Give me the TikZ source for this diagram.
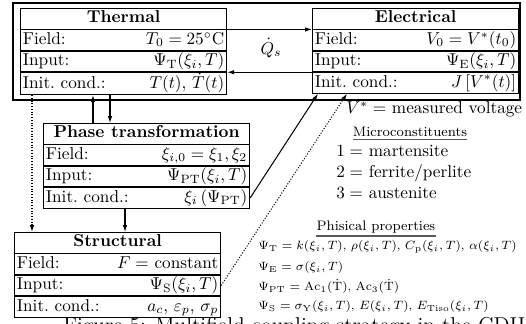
\documentclass[tikz,border=0pt]{standalone}
\usetikzlibrary{calc,arrows.meta}
\newcommand\tabrow[3][117pt]{\makebox[#1]{\strut #2\hfill #3}}
\begin{document}
\begin{tikzpicture}[x=0.5814pt,y=-0.5814pt,
  >={Latex[length=4pt,width=2.6pt]},
  frame/.style={draw,line width=0.8pt},
  ttl/.style={draw,line width=0.45pt,minimum width=120pt,inner sep=0pt,anchor=north west,font=\bfseries},
  row/.style={draw,line width=0.45pt,inner xsep=1.5pt,inner ysep=0pt,anchor=north west},
  link/.style={->,line width=0.6pt},
  dlink/.style={->,line width=0.6pt,densely dotted},
  note/.style={anchor=base west,inner sep=0pt},
  small/.style={anchor=base west,inner sep=0pt,font=\fontsize{6.6}{8}\selectfont},
  head/.style={anchor=base,inner sep=0pt,font=\footnotesize},
  uline/.style={line width=0.9pt,black!65},
]
\useasboundingbox (0,0) rectangle (526,324);
\clip (0,0) rectangle (526,324);

% outer frame
\draw[frame] (13,3) rectangle (520,100);

% Thermal
\node[ttl] (th-t) at (20,8) {\strut Thermal};
\node[row] (th-f) at (th-t.south west) {\tabrow{Field:}{$T_0=25^\circ$C}};
\node[row] (th-i) at (th-f.south west) {\tabrow{Input:}{$\Psi_{\mathrm{T}}(\xi_i,T)$}};
\node[row] (th-c) at (th-i.south west) {\tabrow{Init.~cond.:}{$T(t)$, $\dot{T}(t)$}};

% Electrical
\node[ttl] (el-t) at (312,8) {\strut Electrical};
\node[row] (el-f) at (el-t.south west) {\tabrow{Field:}{$V_0=V^*(t_0)$}};
\node[row] (el-i) at (el-f.south west) {\tabrow{Input:}{$\Psi_{\mathrm{E}}(\xi_i,T)$}};
\node[row] (el-c) at (el-i.south west) {\tabrow{Init.~cond.:}{$J\left[V^*(t)\right]$}};

% Phase transformation
\node[ttl] (ph-t) at (43,123) {\strut Phase transformation};
\node[row] (ph-f) at (ph-t.south west) {\tabrow{Field:}{$\xi_{i,0}=\xi_1,\xi_2$}};
\node[row] (ph-i) at (ph-f.south west) {\tabrow{Input:}{$\Psi_{\mathrm{PT}}(\xi_i,T)$}};
\node[row] (ph-c) at (ph-i.south west) {\tabrow{Init.~cond.:}{$\xi_i\left(\Psi_{\mathrm{PT}}\right)$}};

% Structural
\node[ttl] (st-t) at (14,232) {\strut Structural};
\node[row] (st-f) at (st-t.south west) {\tabrow{Field:}{$F=$ constant}};
\node[row] (st-i) at (st-f.south west) {\tabrow{Input:}{$\Psi_{\mathrm{S}}(\xi_i,T)$}};
\node[row] (st-c) at (st-i.south west) {\tabrow{Init.~cond.:}{$a_c$, $\varepsilon_p$, $\sigma_p$}};

% couplings
\draw[link] (th-t.south east) -- (el-t.south west);
\draw[link] (el-i.south west) -- (th-i.south east);
\node (qs) at (271,48) {$\dot{Q}_s$};

\coordinate (up) at ($(ph-t.north west)+(50,0)$);
\draw[link] (up) -- (up |- th-c.south);
\coordinate (dn) at ($(th-c.south west)+(90,0)$);
\draw[link] (dn) -- (dn |- ph-t.north);
\coordinate (ds) at ($(th-c.south west)+(12,0)$);
\draw[dlink] (ds) -- (ds |- st-t.north);
\coordinate (ps) at ($(ph-c.south west)+(82,0)$);
\draw[link] (ps) -- (ps |- st-t.north);

\coordinate (e1) at ($(el-c.south west)+(6,0)$);
\draw[link] (ph-c.east) -- (e1);
\coordinate (e2) at ($(el-c.south west)+(35,0)$);
\draw[dlink] (st-i.east) -- (e2);

% notes
\node[note] (vs) at (346,114) {$V^*=$ measured voltage};
\node[head] (mc) at (410,137) {Microconstituents};
\draw[uline] ([yshift=-1.2pt]mc.south west) -- ([yshift=-1.2pt]mc.south east);
\node[note] (m1) at (336,157) {$1=$ martensite};
\node[note] (m2) at (336,178) {$2=$ ferrite/perlite};
\node[note] (m3) at (336,199) {$3=$ austenite};
\node[head] (pp) at (376,231) {Phisical properties};
\draw[uline] ([yshift=-1.2pt]pp.south west) -- ([yshift=-1.2pt]pp.south east);
\node[small] (p1) at (258,250) {$\Psi_{\mathrm{T}}=k(\xi_i,T)$, $\rho(\xi_i,T)$, $C_{\mathrm{p}}(\xi_i,T)$, $\alpha(\xi_i,T)$};
\node[small] (p2) at (258,271) {$\Psi_{\mathrm{E}}=\sigma(\xi_i,T)$};
\node[small] (p3) at (258,291) {$\Psi_{\mathrm{PT}}=\mathrm{Ac}_1(\dot{\mathrm{T}})$, $\mathrm{Ac}_3(\dot{\mathrm{T}})$};
\node[small] (p4) at (258,310) {$\Psi_{\mathrm{S}}=\sigma_{\mathrm{Y}}(\xi_i,T)$, $E(\xi_i,T)$, $E_{\mathrm{Tiso}}(\xi_i,T)$};

% caption (cut by the edge of the picture)
\node[anchor=base west,inner sep=0pt,font=\fontsize{12.5}{15}\selectfont] (cap) at (63,333) {Figure 5: Multifield coupling strategy in the CDH};
\end{tikzpicture}
\end{document}
